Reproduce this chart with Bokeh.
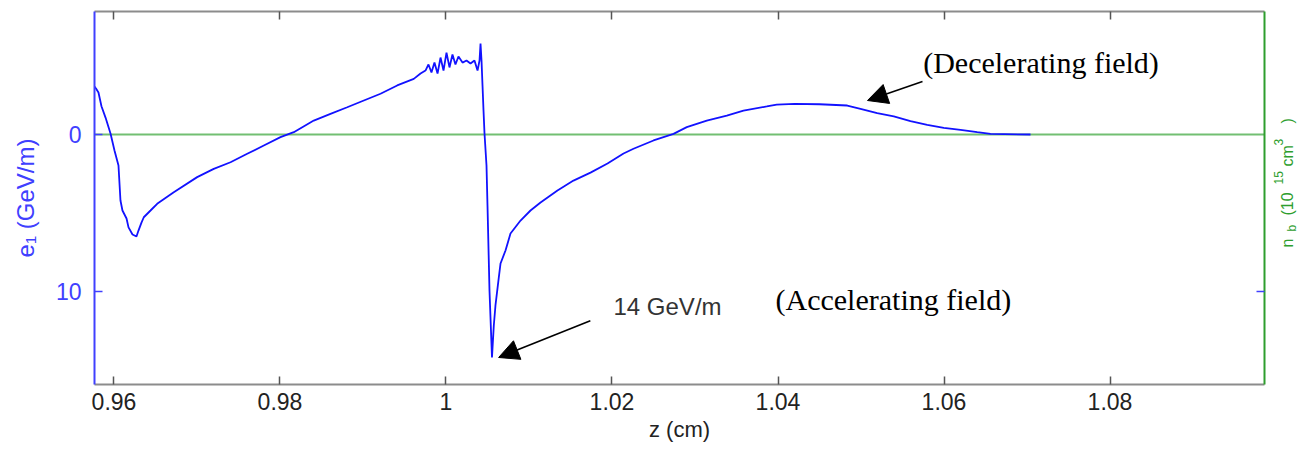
import math
from bokeh.plotting import figure
from bokeh.layouts import row
from bokeh.models import (Range1d, LinearAxis, FixedTicker, Span, Label, Arrow,
                          NormalHead, ColumnDataSource)
from bokeh.embed import file_html
from bokeh.resources import INLINE

# ---------------- data ----------------
z_cm = [
    0.95765, 0.95783, 0.95813, 0.95849, 0.95898, 0.95958, 0.96006, 0.96054, 0.96078, 0.96102,
    0.96151, 0.96175, 0.96223, 0.96271, 0.96295, 0.96331, 0.96359, 0.96440, 0.96520, 0.96720,
    0.97002, 0.97202, 0.97404, 0.97605, 0.97805, 0.98006, 0.98166, 0.98407, 0.98608, 0.98810,
    0.99010, 0.99211, 0.99412, 0.99612, 0.99693, 0.99753, 0.99789, 0.99825, 0.99861, 0.99898,
    0.99934, 0.99970, 1.00006, 1.00042, 1.00078, 1.00114, 1.00150, 1.00199, 1.00247, 1.00295,
    1.00343, 1.00380, 1.00404, 1.00416, 1.00428, 1.00440, 1.00452, 1.00464, 1.00488, 1.00500,
    1.00524, 1.00554, 1.00576, 1.00596, 1.00636, 1.00657, 1.00717, 1.00777, 1.00898, 1.01018,
    1.01139, 1.01343, 1.01536, 1.01741, 1.01946, 1.02139, 1.02259, 1.02500, 1.02741, 1.02901,
    1.03142, 1.03383, 1.03584, 1.03865, 1.03985, 1.04200, 1.04500, 1.04834, 1.04994, 1.05195,
    1.05395, 1.05596, 1.05798, 1.05998, 1.06199, 1.06400, 1.06560, 1.07042,
]
e1_gev_per_m = [
    -3.06, -2.94, -2.68, -1.80, -1.08, -0.06, 1.02, 1.98, 4.21, 4.85,
    5.36, 5.93, 6.38, 6.51, 6.13, 5.62, 5.28, 4.85, 4.42, 3.68,
    2.72, 2.19, 1.77, 1.23, 0.70, 0.17, -0.15, -0.89, -1.32, -1.74,
    -2.17, -2.60, -3.13, -3.55, -3.89, -4.08, -4.47, -3.96, -4.59, -3.89,
    -4.91, -4.08, -5.23, -4.28, -5.11, -4.47, -4.98, -4.59, -4.72, -4.53,
    -4.72, -4.08, -4.72, -5.81, -4.72, -3.13, -1.53, -0.06, 1.98, 4.53,
    9.96, 14.23, 12.19, 10.91, 9.13, 8.23, 7.40, 6.32, 5.49, 4.85,
    4.34, 3.57, 2.94, 2.43, 1.85, 1.21, 0.91, 0.38, -0.04, -0.47,
    -0.89, -1.21, -1.53, -1.79, -1.91, -1.95, -1.93, -1.85, -1.64, -1.36,
    -1.15, -0.85, -0.62, -0.43, -0.30, -0.15, -0.04, 0.00,
]
nb_level = 0.0  # beam density n_b (zero in this window)

z_ticks = [0.96, 0.98, 1.0, 1.02, 1.04, 1.06, 1.08]
z_tick_labels = ["0.96", "0.98", "1", "1.02", "1.04", "1.06", "1.08"]
e1_ticks = [0, 10]
e1_tick_labels = ["0", "10"]

# ---------------- styling ----------------
SANS = "Liberation Sans"
SERIF = "Liberation Serif"
CURVE_BLUE = "#1212ff"
AX_BLUE = "#4040ff"
GREEN_LINE = "#72bf72"
GREEN_AX = "#2e9e2e"
GRAY = "#8c8c8c"
TXT = "#222222"

src = ColumnDataSource(dict(z=z_cm, e1=e1_gev_per_m))

p = figure(width=1270, height=450, output_backend="svg", toolbar_location=None,
           x_range=Range1d(0.957651, 1.098614), y_range=Range1d(15.954, -7.85),
           x_axis_location=None, y_axis_location=None,
           min_border_left=94, min_border_right=6, min_border_top=11,
           min_border_bottom=66)
p.outline_line_color = None
p.background_fill_color = "white"
p.border_fill_color = "white"
p.xgrid.visible = False
p.ygrid.visible = False


def style_axis(ax, line_color, tick_color, line_width=1.5):
    ax.axis_line_color = line_color
    ax.axis_line_width = line_width
    ax.major_tick_in = 8
    ax.major_tick_out = 0
    ax.major_tick_line_color = tick_color
    ax.major_tick_line_width = 1.5
    ax.minor_tick_line_color = None


bottom = LinearAxis(ticker=FixedTicker(ticks=z_ticks),
                    major_label_overrides=dict(zip(z_ticks, z_tick_labels)),
                    axis_label="z (cm)")
style_axis(bottom, GRAY, "#555555", 2)
bottom.major_label_text_font = SANS
bottom.major_label_text_font_size = "23px"
bottom.major_label_text_color = TXT
bottom.major_label_standoff = 8
bottom.axis_label_text_font = SANS
bottom.axis_label_text_font_size = "22px"
bottom.axis_label_text_font_style = "normal"
bottom.axis_label_text_color = TXT
bottom.axis_label_standoff = 4
p.add_layout(bottom, "below")

top = LinearAxis(ticker=FixedTicker(ticks=z_ticks),
                 major_label_overrides={t: "" for t in z_ticks})
style_axis(top, GRAY, "#555555", 2)
top.major_label_text_font_size = "1px"
top.major_label_standoff = 0
p.add_layout(top, "above")

left = LinearAxis(ticker=FixedTicker(ticks=e1_ticks),
                  major_label_overrides=dict(zip(e1_ticks, e1_tick_labels)),
                  axis_label="e\u2081 (GeV/m)")
style_axis(left, AX_BLUE, AX_BLUE, 2)
left.major_label_text_font = SANS
left.major_label_text_font_size = "23px"
left.major_label_text_color = AX_BLUE
left.major_label_standoff = 13
left.axis_label_text_font = SANS
left.axis_label_text_font_size = "24px"
left.axis_label_text_font_style = "normal"
left.axis_label_text_color = AX_BLUE
left.axis_label_standoff = 14
p.add_layout(left, "left")

right = LinearAxis(ticker=FixedTicker(ticks=[e1_ticks[1]]),
                   major_label_overrides={e1_ticks[1]: ""})
style_axis(right, GREEN_AX, AX_BLUE, 2)
right.major_label_text_font_size = "1px"
right.major_label_standoff = 0
p.add_layout(right, "right")

# n_b line (zero level)
p.add_layout(Span(location=nb_level, dimension="width", line_color=GREEN_LINE,
                  line_width=2, level="underlay"))

# e1 curve
p.line(x="z", y="e1", source=src, line_color=CURVE_BLUE, line_width=1.8)

# ---------------- annotations ----------------
imin = max(range(len(e1_gev_per_m)), key=lambda i: e1_gev_per_m[i])
tip_z, tip_e = z_cm[imin] + 0.0008, e1_gev_per_m[imin]
p.add_layout(Arrow(end=NormalHead(size=20, fill_color="black", line_color="black"),
                   x_start=tip_z + 0.01105, y_start=tip_e - 2.34,
                   x_end=tip_z, y_end=tip_e, line_color="black", line_width=1.6))
p.add_layout(Arrow(end=NormalHead(size=20, fill_color="black", line_color="black"),
                   x_start=1.05741, y_start=-3.38, x_end=1.05078, y_end=-2.17,
                   line_color="black", line_width=1.6))

p.add_layout(Label(x=1.02018, y=10.95, text="14 GeV/m", text_font=SANS,
                   text_font_size="24px", text_color="#333333",
                   text_align="left", text_baseline="alphabetic"))
p.add_layout(Label(x=1.0397, y=10.55, text="(Accelerating field)", text_font=SERIF,
                   text_font_size="30px", text_color="black",
                   text_align="left", text_baseline="alphabetic"))
p.add_layout(Label(x=1.05749, y=-4.62, text="(Decelerating field)", text_font=SERIF,
                   text_font_size="30px", text_color="black",
                   text_align="left", text_baseline="alphabetic"))

# ---------------- right-hand title panel: n_b (10^15 cm^3 ) ----------------
# panel frame spans the same vertical extent as the main frame; its range is in pixels
p2 = figure(width=43, height=450, output_backend="svg", toolbar_location=None,
            x_range=Range1d(0, 43), y_range=Range1d(384, 11),
            x_axis_location=None, y_axis_location=None,
            min_border_left=0, min_border_right=0, min_border_top=11,
            min_border_bottom=66)
p2.outline_line_color = None
p2.xgrid.visible = False
p2.ygrid.visible = False
p2.border_fill_color = "white"

# (text, start position from top, baseline position across panel, size)
pieces = [
    ("n", 247, 17, "16px"),
    ("b", 231, 21, "12px"),
    ("(10", 215, 17, "16px"),
    ("15", 184, 8, "12px"),
    ("cm", 166, 17, "16px"),
    ("3", 145, 8, "12px"),
    (")", 123, 17, "16px"),
]
for txt, ypos, xpos, fs in pieces:
    p2.add_layout(Label(x=xpos, y=ypos, text=txt, angle=math.pi / 2,
                        text_font=SANS, text_font_size=fs, text_color=GREEN_AX,
                        text_align="left", text_baseline="alphabetic"))

layout = row(p, p2, spacing=0)
open("out.html", "w").write(file_html(layout, INLINE))
